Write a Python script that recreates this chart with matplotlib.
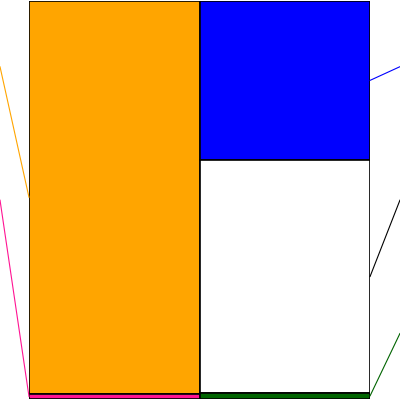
import matplotlib
matplotlib.use("Agg")
import matplotlib.pyplot as plt

# left column (assets) and right column (liabilities + equity), percent of total
left_parts = ["current", "fixed"]
left_values = [98.8, 1.2]
left_colors = ["#FFA500", "#FF1493"]

right_parts = ["liabilities", "net_assets", "other"]
right_values = [40.1, 58.4, 1.5]
right_colors = ["#0000FF", "#FFFFFF", "#006400"]
right_line_colors = ["#0000FF", "#000000", "#006400"]

# where the (cropped) labels sit, as figure fraction from top
left_label_y = [1 / 6, 1 / 2]
right_label_y = [1 / 6, 1 / 2, 5 / 6]

fig = plt.figure(figsize=(4, 4), dpi=100)
ax = fig.add_axes([29 / 400, 1 / 400, 341 / 400, 398.5 / 400])


def stack(ax, x, values, colors):
    mids = []
    top = 100.0
    for v, c in zip(values, colors):
        ax.bar(x, v, bottom=top - v, width=1.0, color=c, edgecolor="black", linewidth=1.2)
        mids.append(top - v / 2)
        top -= v
    return mids


left_mids = stack(ax, 0, left_values, left_colors)
right_mids = stack(ax, 1, right_values, right_colors)

ax.set_xlim(-0.5, 1.5)
ax.set_ylim(0, 100)
ax.axis("off")

for m, ly, c in zip(left_mids, left_label_y, left_colors):
    ax.annotate("", xy=(-0.5, m), xycoords="data",
                xytext=(0, 1 - ly), textcoords="figure fraction",
                arrowprops=dict(arrowstyle="-", color=c, lw=0.8, shrinkA=0, shrinkB=0))

for m, ly, c in zip(right_mids, right_label_y, right_line_colors):
    ax.annotate("", xy=(1.5, m), xycoords="data",
                xytext=(1, 1 - ly), textcoords="figure fraction",
                arrowprops=dict(arrowstyle="-", color=c, lw=0.8, shrinkA=0, shrinkB=0))

fig.savefig("out.png", dpi=100)
plt.close(fig)
